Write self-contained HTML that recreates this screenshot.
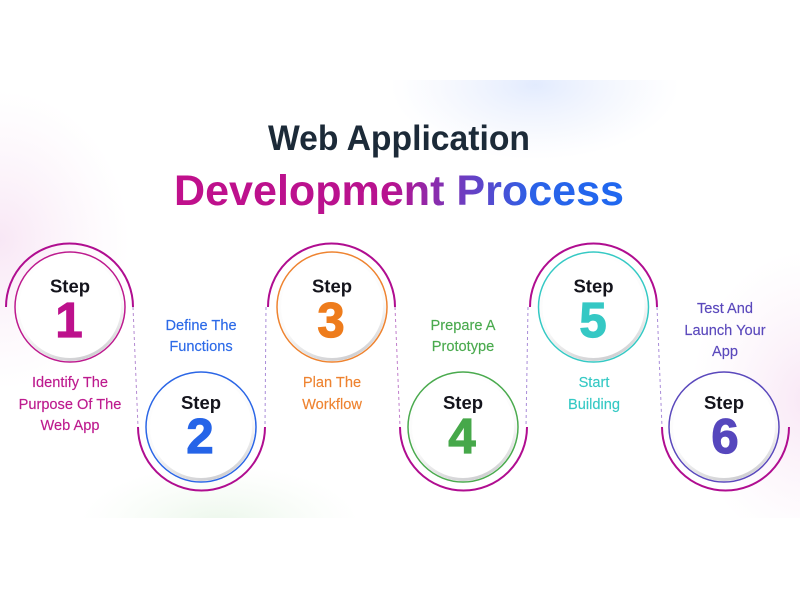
<!DOCTYPE html>
<html><head><meta charset="utf-8"><style>
html,body{margin:0;padding:0;background:#fff;width:800px;height:600px;overflow:hidden}
svg{display:block}
text{font-family:"Liberation Sans",sans-serif;text-anchor:middle}
.s{font-size:18.5px;font-weight:bold;fill:#14141c}
.d{font-size:49px;font-weight:bold;stroke-width:1.2px;paint-order:stroke}
.l{font-size:14.6px;stroke-width:.15px}
</style></head><body>
<svg width="800" height="600" viewBox="0 0 800 600" xmlns="http://www.w3.org/2000/svg">
<defs>
<linearGradient id="tg" gradientUnits="userSpaceOnUse" x1="174" y1="0" x2="624" y2="0">
<stop offset="0" stop-color="#c0108c"/><stop offset=".48" stop-color="#b8128f"/><stop offset=".65" stop-color="#6b3ec2"/><stop offset=".8" stop-color="#2a62e8"/><stop offset="1" stop-color="#1f68f0"/>
</linearGradient>
<linearGradient id="ring" x1="0.3" y1="0" x2="0.6" y2="1">
<stop offset="0" stop-color="#ccc" stop-opacity="0"/><stop offset=".6" stop-color="#ccc" stop-opacity=".1"/><stop offset="1" stop-color="#bcbcc0" stop-opacity=".7"/>
</linearGradient>
<radialGradient id="gb"><stop offset="0" stop-color="#dbe6fd" stop-opacity=".8"/><stop offset=".6" stop-color="#e8eefd" stop-opacity=".4"/><stop offset="1" stop-color="#eef2fe" stop-opacity="0"/></radialGradient>
<radialGradient id="gp"><stop offset="0" stop-color="#f6dff2" stop-opacity=".75"/><stop offset="1" stop-color="#f9ebf7" stop-opacity="0"/></radialGradient>
<radialGradient id="gg"><stop offset="0" stop-color="#e2f3e1" stop-opacity=".7"/><stop offset="1" stop-color="#eef8ed" stop-opacity="0"/></radialGradient>
<clipPath id="bgc"><rect x="0" y="80" width="800" height="438"/></clipPath>
</defs>
<rect width="800" height="600" fill="#fff"/>
<g clip-path="url(#bgc)">
<ellipse cx="535" cy="85" rx="145" ry="75" fill="url(#gb)"/>
<ellipse cx="0" cy="240" rx="130" ry="150" fill="url(#gp)"/>
<ellipse cx="810" cy="400" rx="120" ry="150" fill="url(#gp)"/>
<ellipse cx="220" cy="525" rx="140" ry="60" fill="url(#gg)"/>
</g>
<text x="399" y="150" font-size="35" font-weight="bold" fill="#1c2a38" textLength="262" lengthAdjust="spacingAndGlyphs">Web Application</text>
<text x="399" y="205" font-size="43" font-weight="bold" fill="url(#tg)" textLength="450" lengthAdjust="spacingAndGlyphs">Development Process</text>

<g fill="none" stroke-width="1" stroke-dasharray="3 3">
<path d="M133 307L138 427" stroke="#b48ad2"/>
<path d="M266 307L265 427" stroke="#a98cd8"/>
<path d="M395 307L400 427" stroke="#c07ecb"/>
<path d="M528 307L526 427" stroke="#a98cd8"/>
<path d="M657 307L662 427" stroke="#a98cd8"/>
</g>
<g fill="none" stroke="#b00d90" stroke-width="2">
<path d="M6 307A63.500 63.500 0 0 1 133 307"/>
<path d="M138 427A63.500 63.500 0 0 0 265 427"/>
<path d="M268 307A63.500 63.500 0 0 1 395 307"/>
<path d="M400 427A63.500 63.500 0 0 0 527 427"/>
<path d="M530 307A63.500 63.500 0 0 1 657 307"/>
<path d="M662 427A63.500 63.500 0 0 0 789 427"/>
</g>
<g fill="#fff" stroke-width="1.5">
<circle cx="70" cy="307" r="55" stroke="#bd1a8e"/>
<circle cx="201" cy="427" r="55" stroke="#2b66e6"/>
<circle cx="332" cy="307" r="55" stroke="#ee8330"/>
<circle cx="463" cy="427" r="55" stroke="#4aaa4e"/>
<circle cx="593.500" cy="307" r="55" stroke="#35c9c4"/>
<circle cx="724" cy="427" r="55" stroke="#5a48bc"/>
</g>
<g fill="none" stroke="url(#ring)" stroke-width="3">
<circle cx="70" cy="307" r="52.500"/>
<circle cx="201" cy="427" r="52.500"/>
<circle cx="332" cy="307" r="52.500"/>
<circle cx="463" cy="427" r="52.500"/>
<circle cx="593.500" cy="307" r="52.500"/>
<circle cx="724" cy="427" r="52.500"/>
</g>
<text class="s" x="70" y="292.500">Step</text><text class="d" x="69" y="337" fill="#bd118c" stroke="#bd118c">1</text>
<text class="s" x="201" y="409">Step</text><text class="d" x="200" y="453" fill="#2564e8" stroke="#2564e8">2</text>
<text class="s" x="332" y="292.500">Step</text><text class="d" x="331" y="337" fill="#ee7c1c" stroke="#ee7c1c">3</text>
<text class="s" x="463" y="409">Step</text><text class="d" x="462" y="453" fill="#46a84a" stroke="#46a84a">4</text>
<text class="s" x="593.500" y="292.500">Step</text><text class="d" x="593" y="337" fill="#35c8c4" stroke="#35c8c4">5</text>
<text class="s" x="724" y="409">Step</text><text class="d" x="725" y="453" fill="#5647bd" stroke="#5647bd">6</text>

<g fill="#bd1a8e" stroke="#bd1a8e">
<text class="l" x="70" y="387">Identify The</text>
<text class="l" x="70" y="409">Purpose Of The</text>
<text class="l" x="70" y="430">Web App</text>
</g>
<g fill="#2c6ae8" stroke="#2c6ae8">
<text class="l" x="201" y="330">Define The</text>
<text class="l" x="201" y="351">Functions</text>
</g>
<g fill="#ee8330" stroke="#ee8330">
<text class="l" x="332" y="387">Plan The</text>
<text class="l" x="332" y="409">Workflow</text>
</g>
<g fill="#4aaa4e" stroke="#4aaa4e">
<text class="l" x="463" y="330">Prepare A</text>
<text class="l" x="463" y="351">Prototype</text>
</g>
<g fill="#35c9c4" stroke="#35c9c4">
<text class="l" x="594" y="387">Start</text>
<text class="l" x="594" y="409">Building</text>
</g>
<g fill="#5a48bc" stroke="#5a48bc">
<text class="l" x="725" y="313">Test And</text>
<text class="l" x="725" y="335">Launch Your</text>
<text class="l" x="725" y="356">App</text>
</g>
</svg>
</body></html>
